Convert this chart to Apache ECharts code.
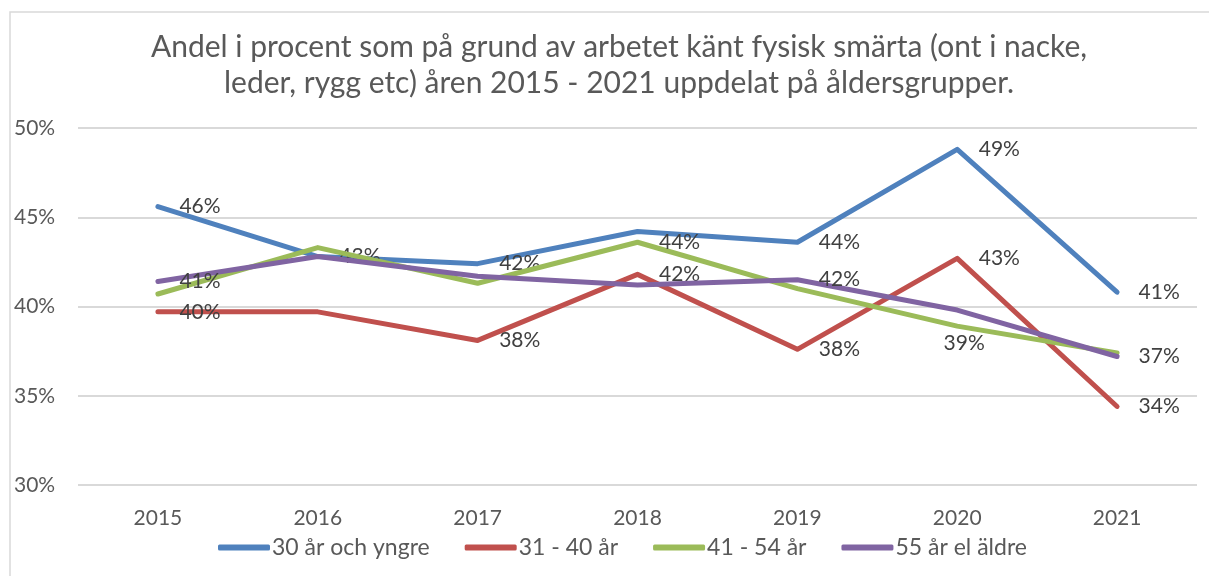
<!DOCTYPE html>
<html>
<head>
<meta charset="utf-8">
<script src="https://cdn.jsdelivr.net/npm/echarts@6/dist/echarts.min.js"></script>
<style>
  html, body { margin: 0; padding: 0; background: #fff; }
  #chart { width: 1209px; height: 576px; }
</style>
</head>
<body>
<div id="chart"></div>
<script>
// data (percent)
const years = ['2015', '2016', '2017', '2018', '2019', '2020', '2021'];
const seriesNames = ['30 år och yngre', '31 - 40 år', '41 - 54 år', '55 år el äldre'];
const young = [45.6, 42.8, 42.4, 44.2, 43.6, 48.8, 40.8];
const age31to40 = [39.7, 39.7, 38.1, 41.8, 37.6, 42.7, 34.4];
const age41to54 = [40.7, 43.3, 41.3, 43.6, 41.0, 38.9, 37.4];
const age55plus = [41.4, 42.8, 41.7, 41.2, 41.5, 39.8, 37.2];
const yTicks = [30, 35, 40, 45, 50];

// which data labels are visible in the original (the rest overlap and were removed)
const labelsShown = [
  [1, 1, 1, 0, 1, 1, 1],
  [1, 0, 1, 1, 1, 1, 1],
  [0, 0, 0, 1, 0, 1, 0],
  [1, 0, 0, 0, 1, 0, 1]
];

const colors = ['#4F81BD', '#C0504D', '#9BBB59', '#8064A2'];
const font = 'Lato, "Open Sans", sans-serif';

const chart = echarts.init(document.getElementById('chart'));

function buildSeries(name, values, idx) {
  return {
    name: name,
    type: 'line',
    data: values.map((v, i) => {
      const item = { value: v };
      if (!labelsShown[idx][i]) {
        item.label = { show: false };
      } else if (idx === 2 && i === 5) {
        // green 2020 label sits under the point
        item.label = { show: true, position: 'bottom', distance: 6, offset: [7, 0] };
      }
      return item;
    }),
    symbol: 'circle',
    symbolSize: 1,
    showSymbol: true,
    lineStyle: { width: 5, color: colors[idx], cap: 'round', join: 'round' },
    itemStyle: { color: colors[idx] },
    label: {
      show: true,
      position: 'right',
      distance: 21,
      formatter: (p) => Math.round(p.value) + '%',
      fontFamily: font,
      fontSize: 21,
      color: '#404040'
    },
    emphasis: { disabled: true },
    z: 2 + idx
  };
}

chart.setOption({
  animation: false,
  textStyle: { fontFamily: font },
  graphic: [{
    type: 'rect',
    shape: { x: 10, y: 12, width: 1220, height: 600 },
    style: { fill: 'none', stroke: '#d9d9d9', lineWidth: 1.5 },
    silent: true
  }],
  title: {
    text: 'Andel i procent som på grund av arbetet känt fysisk smärta (ont i nacke,\nleder, rygg etc) åren 2015 - 2021 uppdelat på åldersgrupper.',
    left: 614,
    textAlign: 'center',
    top: 24,
    textStyle: {
      fontFamily: font,
      fontSize: 30,
      fontWeight: 'normal',
      lineHeight: 36,
      color: '#595959'
    }
  },
  legend: {
    data: seriesNames,
    bottom: 12,
    left: 213,
    itemWidth: 52,
    itemHeight: 6,
    itemGap: 35,
    icon: 'roundRect',
    textStyle: { fontFamily: font, fontSize: 23, color: '#595959', padding: [0, 0, 0, -3] }
  },
  grid: { left: 78, right: 12, top: 128, bottom: 91, containLabel: false },
  xAxis: {
    type: 'category',
    data: years,
    boundaryGap: true,
    axisLine: { show: false },
    axisTick: { show: false },
    axisLabel: { fontFamily: font, fontSize: 21, color: '#595959', margin: 23 }
  },
  yAxis: {
    type: 'value',
    min: yTicks[0],
    max: yTicks[yTicks.length - 1],
    interval: 5,
    axisLine: { show: false },
    axisTick: { show: false },
    axisLabel: {
      formatter: '{value}%',
      fontFamily: font,
      fontSize: 21,
      color: '#595959',
      align: 'left',
      margin: 64
    },
    splitLine: { lineStyle: { color: '#d9d9d9', width: 2 } }
  },
  series: [
    buildSeries(seriesNames[0], young, 0),
    buildSeries(seriesNames[1], age31to40, 1),
    buildSeries(seriesNames[2], age41to54, 2),
    buildSeries(seriesNames[3], age55plus, 3)
  ]
});

window.addEventListener('resize', () => chart.resize());
</script>
</body>
</html>
